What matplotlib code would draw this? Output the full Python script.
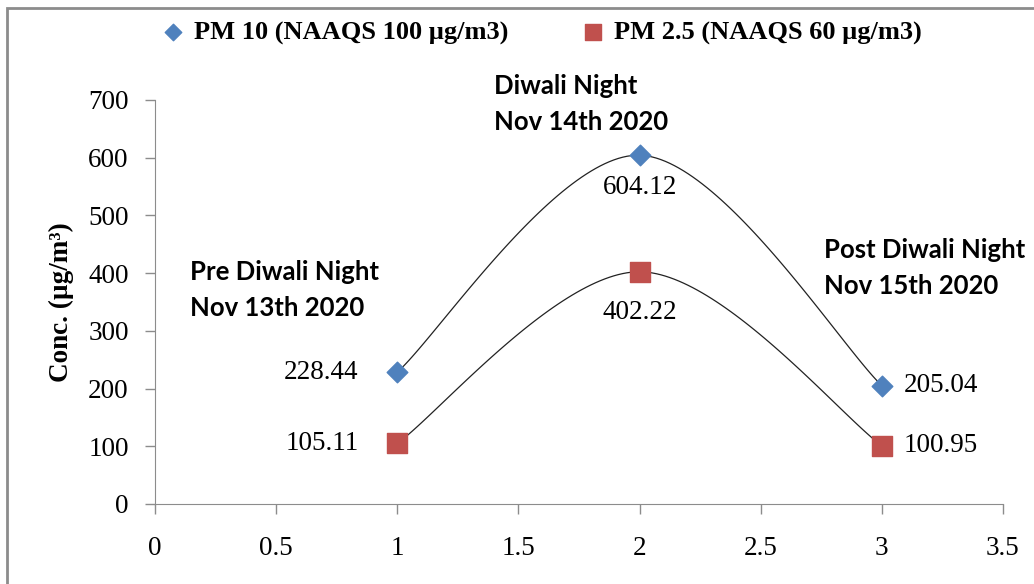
import matplotlib

matplotlib.use("Agg")

import matplotlib.pyplot as plt
import numpy as np
from matplotlib.patches import Rectangle

x_vals = [1, 2, 3]
pm10 = [228.44, 604.12, 205.04]
pm25 = [105.11, 402.22, 100.95]
pm10_label = "PM 10 (NAAQS 100 µg/m3)"
pm25_label = "PM 2.5 (NAAQS 60 µg/m3)"
event_notes = ["Pre Diwali Night\nNov 13th 2020", "Diwali Night\nNov 14th 2020", "Post Diwali Night\nNov 15th 2020"]
note_pos = [(0.145, 422), (1.40, 744), (2.76, 460)]

SERIF = "Liberation Serif"
SANS = ["Lato", "DejaVu Sans"]


def smooth(xs, ys, n=60):
    # Catmull-Rom curve through the points, like Excel's smoothed line
    p = np.column_stack([xs, ys]).astype(float)
    p = np.vstack([p[0], p, p[-1]])
    out = []
    t = np.linspace(0, 1, n)[:, None]
    for i in range(1, len(p) - 2):
        p0, p1, p2, p3 = p[i - 1], p[i], p[i + 1], p[i + 2]
        seg = 0.5 * ((2 * p1) + (-p0 + p2) * t + (2 * p0 - 5 * p1 + 4 * p2 - p3) * t ** 2
                     + (-p0 + 3 * p1 - 3 * p2 + p3) * t ** 3)
        out.append(seg)
    seg = np.vstack(out)
    return seg[:, 0], seg[:, 1]


fig = plt.figure(figsize=(10.34, 5.84), dpi=100)
ax = fig.add_axes([0.150, 0.137, 0.820, 0.692])

for ys in (pm10, pm25):
    sx, sy = smooth(x_vals, ys)
    ax.plot(sx, sy, color="#222222", lw=0.9, zorder=2)

ax.scatter(x_vals, pm10, marker="D", s=110, color="#4F81BD", zorder=3, label=pm10_label)
ax.scatter(x_vals, pm25, marker="s", s=220, color="#C0504D", zorder=3, label=pm25_label)

lab_kw = dict(fontsize=19.5, family=SERIF, textcoords="offset points")
ax.annotate(f"{pm10[0]:.2f}", (x_vals[0], pm10[0]), xytext=(-28, 0), ha="right", va="center", **lab_kw)
ax.annotate(f"{pm10[1]:.2f}", (x_vals[1], pm10[1]), xytext=(0, -23), ha="center", va="center", **lab_kw)
ax.annotate(f"{pm10[2]:.2f}", (x_vals[2], pm10[2]), xytext=(16, 0), ha="left", va="center", **lab_kw)
ax.annotate(f"{pm25[0]:.2f}", (x_vals[0], pm25[0]), xytext=(-28, 0), ha="right", va="center", **lab_kw)
ax.annotate(f"{pm25[1]:.2f}", (x_vals[1], pm25[1]), xytext=(0, -29), ha="center", va="center", **lab_kw)
ax.annotate(f"{pm25[2]:.2f}", (x_vals[2], pm25[2]), xytext=(16, 0), ha="left", va="center", **lab_kw)

for note, (nx, ny) in zip(event_notes, note_pos):
    ax.text(nx, ny, note, family=SANS, fontsize=18.5, fontweight="bold", ha="left", va="top",
            linespacing=1.6, clip_on=False)

ax.set_xlim(0, 3.5)
ax.set_ylim(0, 700)
ax.set_xticks(np.arange(0, 3.51, 0.5))
ax.set_yticks(np.arange(0, 701, 100))
ax.set_xticklabels(["0", "0.5", "1", "1.5", "2", "2.5", "3", "3.5"])
for s in ("top", "right"):
    ax.spines[s].set_visible(False)
for s in ("left", "bottom"):
    ax.spines[s].set_color("#8C8C8C")
ax.tick_params(colors="#8C8C8C", length=7, width=1, labelcolor="black", labelsize=19.5)
ax.tick_params(axis="x", pad=16)
ax.tick_params(axis="y", pad=12)
for t in ax.get_xticklabels() + ax.get_yticklabels():
    t.set_family(SERIF)

ax.set_ylabel("Conc. (µg/m³)", family=SERIF, fontsize=19.5, fontweight="bold", labelpad=10)

leg = fig.legend(loc="upper center", bbox_to_anchor=(0.517, 1.005), ncol=2, frameon=False,
                 handletextpad=-0.2, columnspacing=2.2, markerscale=0.8,
                 prop=dict(family=SERIF, size=19, weight="bold"))

fig.patches.append(Rectangle((7 / 1034, -0.1), 1.2, 1.1 - 8 / 584, transform=fig.transFigure,
                             fill=False, edgecolor="#8C8C8C", lw=2))

fig.savefig("out.png", dpi=100)
